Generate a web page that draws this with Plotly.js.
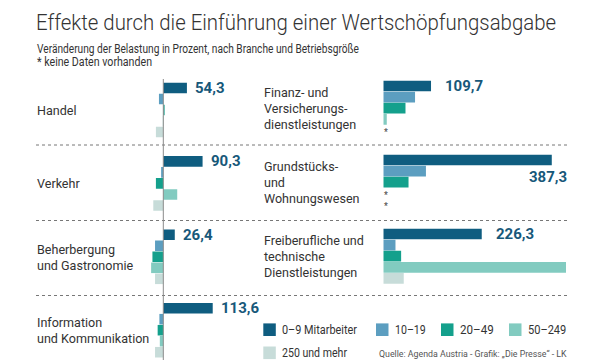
<!DOCTYPE html>
<html><head><meta charset="utf-8">
<script src="https://cdn.plot.ly/plotly-3.0.1.min.js"></script>
<style>html,body{margin:0;padding:0;background:#fff}#chart{width:600px;height:360px}</style>
</head><body><div id="chart"></div>
<script>
// ---- data ----
const seriesNames = ['0–9 Mitarbeiter', '10–19', '20–49', '50–249', '250 und mehr'];
const seriesColors = ['#0f5d80', '#5c9ec0', '#14a08c', '#82cbc0', '#c7dcd9'];

const leftCategories = ['Handel', 'Verkehr', 'Beherbergung<br>und Gastronomie', 'Information<br>und Kommunikation'];
const rightCategories = ['Finanz- und<br>Versicherungs-<br>dienstleistungen', 'Grundstücks-<br>und<br>Wohnungswesen', 'Freiberufliche und<br>technische<br>Dienstleistungen'];

// Veränderung in % je Betriebsgröße (null = keine Daten)
const left_0_9    = [54.3, 90.3, 26.4, 113.6];
const left_10_19  = [-10, -5, -19, -9];
const left_20_49  = [3, -17, -25, -13];
const left_50_249 = [-1, 32, -28, -8];
const left_250    = [-17, -23, -19, -19];

const right_0_9    = [109.7, 387.3, 226.3];
const right_10_19  = [73, 98, 28];
const right_20_49  = [51, 58, 41];
const right_50_249 = [8, null, 420];
const right_250    = [null, null, 47];

const titleText = 'Effekte durch die Einführung einer Wertschöpfungsabgabe';
const subtitleText = 'Veränderung der Belastung in Prozent, nach Branche und Betriebsgröße';
const noteText = '* keine Daten vorhanden';
const sourceText = 'Quelle: Agenda Austria - Grafik: „Die Presse“ - LK';

// ---- layout helpers ----
const W = 600, H = 360;
const K = 0.435;           // px per percent
const L_ZERO = 163.3, L_X0 = 140, L_X1 = 262;
const R_ZERO = 383.3, R_X1 = 590;
const SANS = 'Roboto, "Liberation Sans", sans-serif';
const fmt = v => v.toFixed(1).replace('.', ',');

const leftSeries = [left_0_9, left_10_19, left_20_49, left_50_249, left_250];
const rightSeries = [right_0_9, right_10_19, right_20_49, right_50_249, right_250];

const traces = [];
seriesNames.forEach((name, i) => {
  traces.push({type: 'bar', orientation: 'h', name: name, x: leftSeries[i], y: leftCategories,
    xaxis: 'x', yaxis: 'y', marker: {color: seriesColors[i]}, showlegend: false, hoverinfo: 'skip'});
  traces.push({type: 'bar', orientation: 'h', name: name, x: rightSeries[i], y: rightCategories,
    xaxis: 'x2', yaxis: 'y2', marker: {color: seriesColors[i]}, showlegend: false, hoverinfo: 'skip'});
});

const annotations = [];
const shapes = [];
const BARW = 0.15;
const LINE_PITCH = 16;
const catLines = new Set();
// category labels, one annotation per line for tight leading
function addCatLabel(c, j, yref, px) {
  const lines = c.split('<br>');
  lines.forEach((ln, k) => {
    catLines.add(ln);
    annotations.push({text: ln, xref: 'paper', x: px / W, xanchor: 'left', yref: yref, y: j,
      yanchor: 'middle', yshift: -(k - (lines.length - 1) / 2) * LINE_PITCH, align: 'left', showarrow: false,
      borderpad: 0, font: {family: SANS, size: 13.5, color: '#333'}});
  });
}
leftCategories.forEach((c, j) => addCatLabel(c, j, 'y', 36));
rightCategories.forEach((c, j) => addCatLabel(c, j, 'y2', 263));
// value labels (0–9)
const valFont = {family: SANS, size: 15, color: '#17587a', weight: 'bold'};
left_0_9.forEach((v, j) => annotations.push({text: fmt(v), xref: 'x', x: v, xanchor: 'left', xshift: 6,
  yref: 'y', y: j - 2 * BARW, yanchor: 'middle', showarrow: false, font: valFont}));
const rMax = (R_X1 - R_ZERO) / K;
right_0_9.forEach((v, j) => {
  if (v > 0.7 * rMax) {
    annotations.push({text: fmt(v), xref: 'x2', x: v, xanchor: 'right', xshift: 17,
      yref: 'y2', y: j - 0.5 * BARW, yanchor: 'middle', showarrow: false, font: valFont});
  } else {
    annotations.push({text: fmt(v), xref: 'x2', x: v, xanchor: 'left', xshift: 12,
      yref: 'y2', y: j - 2 * BARW, yanchor: 'middle', showarrow: false, font: valFont});
  }
});
// asterisks for missing data
rightSeries.forEach((s, i) => s.forEach((v, j) => {
  if (v === null) annotations.push({text: '*', xref: 'x2', x: 0, xanchor: 'left', xshift: 0,
    yref: 'y2', y: j + (i - 2) * BARW, yanchor: 'middle', yshift: -2, showarrow: false, borderpad: 0,
    font: {family: SANS, size: 8.4, color: '#555', weight: 'bold'}});
}));
// subtitle, note, source
annotations.push({text: subtitleText, xref: 'paper', x: 36 / W, xanchor: 'left', yref: 'paper', y: 1 - 49 / H,
  yanchor: 'middle', align: 'left', showarrow: false, borderpad: 0, font: {family: SANS, size: 12, color: '#333'}});
annotations.push({text: noteText, xref: 'paper', x: 36 / W, xanchor: 'left', yref: 'paper', y: 1 - 62 / H,
  yanchor: 'middle', align: 'left', showarrow: false, borderpad: 0, font: {family: SANS, size: 12, color: '#333'}});
annotations.push({text: sourceText, xref: 'paper', x: 378 / W, xanchor: 'left', yref: 'paper', y: 1 - 353.5 / H,
  yanchor: 'middle', align: 'left', showarrow: false, borderpad: 0, font: {family: SANS, size: 8.8, color: '#555'}});
// legend (manual)
const legPos = [[263.3, 329.7], [376, 329.7], [441, 329.7], [509, 329.7], [263.3, 352.8]];
seriesNames.forEach((n, i) => {
  const [lx, ly] = legPos[i];
  shapes.push({type: 'rect', xref: 'paper', yref: 'paper', x0: lx / W, x1: (lx + 12.5) / W,
    y0: Math.max(0, 1 - (ly + 6.3) / H), y1: 1 - (ly - 6.3) / H, fillcolor: seriesColors[i], line: {width: 0}});
  annotations.push({text: n, xref: 'paper', x: (lx + 18) / W, xanchor: 'left', yref: 'paper', y: 1 - ly / H,
    yanchor: 'middle', align: 'left', showarrow: false, borderpad: 0, font: {family: SANS, size: 12.5, color: '#333'}});
});
// dotted dividers
[145, 220.5, 295.5].forEach(py => shapes.push({type: 'line', xref: 'paper', yref: 'paper',
  x0: 36 / W, x1: 567 / W, y0: 1 - py / H, y1: 1 - py / H, line: {color: '#777', width: 1, dash: 'dot'}}));
// zero line left
shapes.push({type: 'line', xref: 'x', x0: 0, x1: 0, yref: 'paper', y0: 0, y1: 1 - 79 / H,
  line: {color: '#8a8a8a', width: 1}});

const L_TOP = 73.3, R_TOP = 71.2, L_PITCH = 73.4, R_PITCH = 74;
const axisOff = {showgrid: false, zeroline: false, showticklabels: false, ticks: '', showline: false, fixedrange: true};
const layout = {
  width: W, height: H, margin: {l: 0, r: 0, t: 0, b: 0},
  paper_bgcolor: '#fff', plot_bgcolor: 'rgba(0,0,0,0)',
  barmode: 'group', bargap: 0.25, bargroupgap: 0.04,
  title: {text: titleText, x: 36 / W, xanchor: 'left', xref: 'paper', yref: 'container', y: 1 - 22 / H, yanchor: 'middle',
    font: {family: SANS, size: 22, color: '#333', weight: 300}},
  xaxis: Object.assign({}, axisOff, {domain: [L_X0 / W, L_X1 / W], range: [(L_X0 - L_ZERO) / K, (L_X1 - L_ZERO) / K]}),
  xaxis2: Object.assign({}, axisOff, {domain: [R_ZERO / W, R_X1 / W], range: [0, rMax]}),
  yaxis: Object.assign({}, axisOff, {type: 'category', anchor: 'x', domain: [0, (H - L_TOP) / H],
    range: [-0.5 + (H - L_TOP) / L_PITCH, -0.5]}),
  yaxis2: Object.assign({}, axisOff, {type: 'category', anchor: 'x2', domain: [0, (H - R_TOP) / H],
    range: [-0.5 + (H - R_TOP) / R_PITCH, -0.5]}),
  annotations: annotations, shapes: shapes, showlegend: false
};

// condensed typography of the original: narrow the left-aligned texts to their printed widths
const targetWidths = new Map([[titleText, 520], [subtitleText, 322], [noteText, 115], [sourceText, 188],
  ['0–9 Mitarbeiter', 75], ['10–19', 30.7], ['20–49', 33.7], ['50–249', 38.3], ['250 und mehr', 65]]);
function condense(gd) {
  gd.querySelectorAll('text.annotation-text, text.gtitle').forEach(t => {
    const key = t.getAttribute('data-unformatted');
    const nat = t.getComputedTextLength();
    let target = null;
    if (targetWidths.has(key)) target = targetWidths.get(key);
    else if (catLines.has(key)) target = nat * 0.93;
    if (target && nat > 0 && target < nat) {
      t.setAttribute('textLength', target.toFixed(1));
      t.setAttribute('lengthAdjust', 'spacingAndGlyphs');
    }
  });
}
Plotly.newPlot('chart', traces, layout, {displayModeBar: false, staticPlot: true}).then(condense);
</script></body></html>
